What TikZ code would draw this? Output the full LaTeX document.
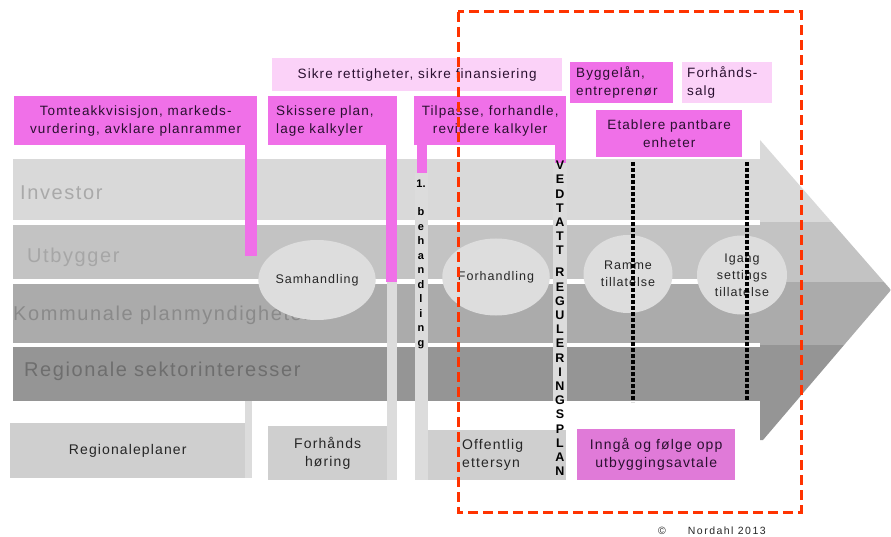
\documentclass[tikz,border=0pt]{standalone}
\usepackage{fontspec}
\setmainfont{Liberation Sans}
\newfontfamily\spfont[LetterSpace=8]{Liberation Sans}
\newfontfamily\wfont[LetterSpace=14]{Liberation Sans}
\usetikzlibrary{shapes.geometric}
\definecolor{laneA}{HTML}{D9D9D9}
\definecolor{laneB}{HTML}{C3C3C3}
\definecolor{laneC}{HTML}{ABABAB}
\definecolor{laneD}{HTML}{959595}
\definecolor{labA}{HTML}{A9A9A9}
\definecolor{labB}{HTML}{A6A6A6}
\definecolor{labC}{HTML}{8A8A8A}
\definecolor{labD}{HTML}{6E6E6E}
\definecolor{pinkA}{HTML}{F070E8}
\definecolor{pinkL}{HTML}{FBD2F8}
\definecolor{pinkM}{HTML}{E07AD8}
\definecolor{boxgray}{HTML}{CFCFCF}
\definecolor{bargray}{HTML}{DCDCDC}
\definecolor{ellgray}{HTML}{DDDDDD}
\definecolor{redd}{HTML}{FF3300}
\definecolor{boxtext}{HTML}{2A1030}
\tikzset{
  lanebox/.style={draw=none, inner sep=0, anchor=north west, minimum width=747},
  lanelabel/.style={inner sep=0, anchor=west, font=\spfont\fontsize{20}{22}\selectfont},
  pinkbox/.style={fill=pinkA, draw=none, inner sep=0, anchor=north west, text=boxtext,
     font=\spfont\fontsize{13.5}{18}\selectfont, align=center},
  graybox/.style={fill=boxgray, draw=none, inner sep=0, anchor=north west, text=black!85,
     font=\spfont\fontsize{14}{18}\selectfont, align=center},
  ellnode/.style={ellipse, fill=ellgray, draw=none, inner sep=0, text=black!85,
     font=\spfont\fontsize{12.5}{17}\selectfont, align=center},
  vstack/.style={inner sep=0, align=center, text=black, font=\bfseries\fontsize{12.5}{14.2}\selectfont},
  vstacksmall/.style={inner sep=0, align=center, text=black, font=\bfseries\fontsize{11}{14.5}\selectfont},
  dotline/.style={line width=4pt, dash pattern=on 4pt off 2pt, black},
  reddash/.style={line width=3pt, dash pattern=on 10pt off 5pt, redd}
}
\begin{document}
\begin{tikzpicture}[x=1pt,y=-1pt]
\useasboundingbox[fill=white] (0,0) rectangle (891,537);
% arrow head
\begin{scope}
  \clip (760,140) -- (891,290) -- (763,440) -- (760,440) -- cycle;
  \fill[laneA] (755,130) rectangle (895,222);
  \fill[laneB] (755,222) rectangle (895,282);
  \fill[laneC] (755,282) rectangle (895,345);
  \fill[laneD] (755,345) rectangle (895,450);
\end{scope}
% lanes
\node[lanebox, fill=laneA, minimum height=61] (investor) at (13,159) {};
\node[lanebox, fill=laneB, minimum height=54] (utbygger) at (13,225) {};
\node[lanebox, fill=laneC, minimum height=59] (kommunale) at (13,284) {};
\node[lanebox, fill=laneD, minimum height=54] (regionale) at (13,347) {};
\node[lanelabel, text=labA] (invlab) at (20,193) {Investor};
\node[lanelabel, text=labB] (utblab) at (27,257) {Utbygger};
\node[lanelabel, text=labC] (komlab) at (13,315) {Kommunale planmyndigheter};
\node[lanelabel, text=labD] (reglab) at (24,371) {Regionale sektorinteresser};
% light gray bars
\fill[bargray] (245,401) rectangle (252,478);
\fill[bargray] (387,282) rectangle (397,480);
\fill[bargray] (415,173) rectangle (428,480);
\fill[bargray] (553,163) rectangle (567,401);
% pink stubs
\fill[pinkA] (245,140) rectangle (257,256);
\fill[pinkA] (386,140) rectangle (397,282);
\fill[pinkA] (417,140) rectangle (427,173);
\fill[pinkA] (555,140) rectangle (566,163);
% ellipses
\node[ellnode, minimum width=90, minimum height=80] (samh) at (317,280) {Samhandling};
\node[ellnode, minimum width=88, minimum height=77] (forh) at (496,277) {Forhandling};
\node[ellnode, minimum width=89, minimum height=78] (ramme) at (628,274) {Ramme\\tillatelse};
\node[ellnode, minimum width=90, minimum height=79] (igang) at (742,275) {Igang\\settings\\tillatelse};
% dotted milestones
\coordinate (d1t) at (633,162); \coordinate (d1b) at (633,402);
\coordinate (d2t) at (747,162); \coordinate (d2b) at (747,400);
\draw[dotline] (d1t) -- (d1b);
\draw[dotline] (d2t) -- (d2b);
% pink boxes
\node[pinkbox, minimum width=243, minimum height=49] (tomte) at (14,96)
  {Tomteakkvisisjon, markeds-\\vurdering, avklare planrammer};
\node[pinkbox, fill=pinkL, minimum width=290, minimum height=33] (sikre) at (272,58)
  {Sikre rettigheter, sikre finansiering};
\node[pinkbox, minimum width=129, minimum height=49, text width=113, inner xsep=8, align=left] (skiss) at (268,96)
  {Skissere plan,\\lage kalkyler};
\node[pinkbox, minimum width=152, minimum height=49] (tilp) at (414,96)
  {Tilpasse, forhandle,\\revidere kalkyler};
\node[pinkbox, minimum width=103, minimum height=41, text width=91, inner xsep=6, align=left] (bygg) at (570,62)
  {Byggelån,\\entreprenør};
\node[pinkbox, fill=pinkL, minimum width=90, minimum height=41, text width=80, inner xsep=5, align=left] (fsalg) at (682,62)
  {Forhånds-\\salg};
\node[pinkbox, minimum width=146, minimum height=47] (etab) at (596,110)
  {Etablere pantbare\\enheter};
\node[pinkbox, fill=pinkM, minimum width=158, minimum height=51, font=\spfont\fontsize{14}{18}\selectfont] (inngaa) at (577,429)
  {Inngå og følge opp\\utbyggingsavtale};
% gray boxes
\node[graybox, minimum width=235, minimum height=55] (regplaner) at (10,423) {Regionaleplaner};
\node[graybox, minimum width=119, minimum height=54] (fhoer) at (268,426) {Forhånds\\høring};
\node[graybox, minimum width=138, minimum height=50] (offbox) at (428,430) {};
\node[inner sep=0, anchor=west, align=left, text=black!85, font=\spfont\fontsize{14}{18}\selectfont] (offtext) at (462,455) {Offentlig\\ettersyn};
% vertical texts
\node[vstacksmall] (beh1) at (421,184) {1.};
\node[vstacksmall] (beh2) at (421,278) {b\\e\\h\\a\\n\\d\\l\\i\\n\\g};
\node[vstack] (vedt) at (560,208) {V\\E\\D\\T\\A\\T\\T};
\node[vstack] (regpl) at (560,372) {R\\E\\G\\U\\L\\E\\R\\I\\N\\G\\S\\P\\L\\A\\N};
% red frame
\draw[reddash] (458,12) rectangle (801,512);
% copyright
\node[inner sep=0, anchor=west, text=black!85, font=\wfont\fontsize{10.5}{12}\selectfont] (copy) at (658,531) {©\hspace{22pt}Nordahl 2013};
\end{tikzpicture}
\end{document}
